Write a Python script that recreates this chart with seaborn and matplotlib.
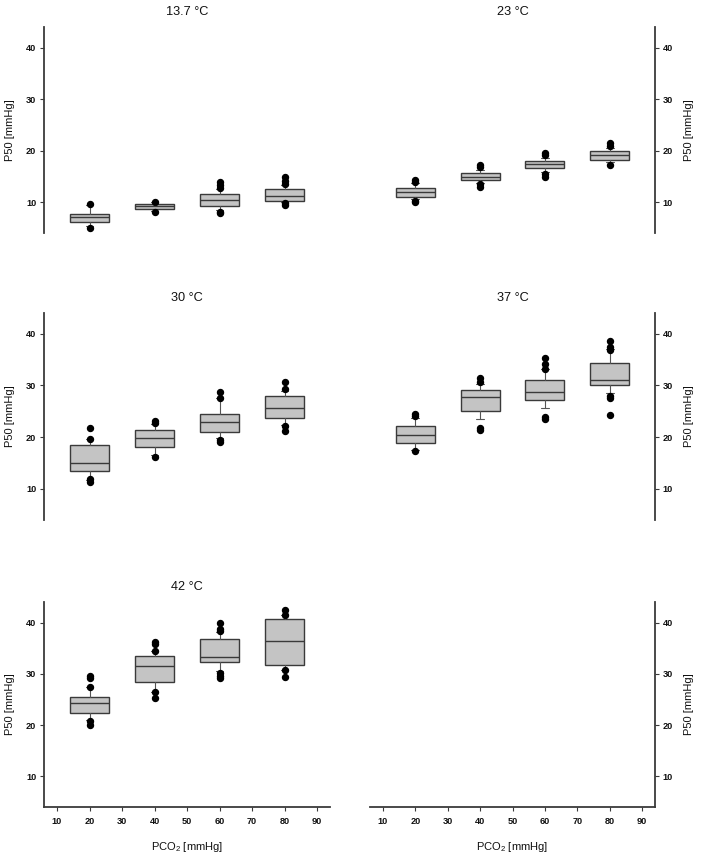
import matplotlib
matplotlib.use("Agg")
import matplotlib.pyplot as plt
import seaborn as sns

# ---------------- data ----------------
titles = ["13.7 °C", "23 °C", "30 °C", "37 °C", "42 °C"]
pco2 = [20, 40, 60, 80]
x_ticks = [10, 20, 30, 40, 50, 60, 70, 80, 90]
y_ticks = [10, 20, 30, 40]

q1 = [
    [6.2, 8.7, 9.15, 10.2],
    [11.05, 14.3, 16.55, 18.15],
    [13.5, 18.05, 21.1, 23.7],
    [18.95, 25.05, 27.15, 30.05],
    [22.35, 28.3, 32.35, 31.7],
]
med = [
    [7.15, 9.15, 10.5, 11.15],
    [12.0, 14.9, 17.4, 19.05],
    [15.0, 19.75, 23.0, 25.7],
    [20.45, 27.85, 28.8, 31.0],
    [24.3, 31.55, 33.25, 36.3],
]
q3 = [
    [7.75, 9.6, 11.55, 12.6],
    [12.8, 15.7, 18.05, 19.9],
    [18.55, 21.4, 24.4, 28.0],
    [22.15, 29.15, 31.1, 34.35],
    [25.4, 33.4, 36.75, 40.6],
]
whislo = [
    [5.3, 8.3, 8.45, 10.05],
    [10.6, 13.75, 15.9, 17.7],
    [11.8, 16.5, 19.9, 22.3],
    [17.6, 23.45, 25.7, 28.45],
    [21.0, 26.5, 30.6, 30.8],
]
whishi = [
    [9.35, 9.95, 12.6, 13.35],
    [13.7, 16.2, 18.6, 20.6],
    [19.7, 22.5, 27.5, 29.0],
    [23.75, 30.25, 33.2, 37.1],
    [27.35, 34.5, 38.05, 41.4],
]
fliers = [
    [[9.6, 5.05], [10.1, 8.0], [13.95, 13.3, 12.7, 8.1, 7.8], [14.8, 14.15, 13.45, 9.75, 9.5]],
    [[14.2, 13.9, 10.2, 9.95], [17.3, 16.9, 13.45, 13.0], [19.6, 19.15, 15.45, 14.9], [21.4, 20.95, 17.3]],
    [[21.7, 19.7, 11.9, 11.4], [23.1, 22.7, 16.2], [28.8, 27.5, 19.55, 19.1], [30.7, 29.3, 22.1, 21.15]],
    [[24.5, 24.1, 17.3], [31.35, 30.6, 21.8, 21.35], [35.3, 34.15, 33.2, 23.95, 23.55], [38.55, 37.4, 36.9, 28.0, 27.5, 24.2]],
    [[29.6, 29.15, 27.35, 20.85, 20.05], [36.2, 35.8, 34.5, 26.5, 25.25], [40.0, 38.8, 38.35, 30.05, 29.6, 29.15], [42.5, 41.4, 30.8, 29.4]],
]

# ---------------- style ----------------
sns.set_theme(style="white")
plt.rcParams["font.family"] = ["Liberation Sans", "DejaVu Sans"]
plt.rcParams["mathtext.fontset"] = "custom"
plt.rcParams["mathtext.rm"] = "Liberation Sans"
plt.rcParams["mathtext.it"] = "Liberation Sans"

SPINE = "#3a3a3a"
BOXFILL = "#c4c4c4"
W, H = 702, 855

fig = plt.figure(figsize=(W / 100, H / 100), dpi=100)
fig.patch.set_facecolor("white")

col_x = [(44, 330), (370, 655)]
row_y = [(27, 233), (313, 520), (602, 807)]


def make_ax(r, c):
    x0, x1 = col_x[c]
    y0, y1 = row_y[r]
    ax = fig.add_axes([x0 / W, 1 - y1 / H, (x1 - x0) / W, (y1 - y0) / H])
    ax.set_facecolor("white")
    ax.set_xlim(6, 94)
    ax.set_ylim(4, 44)
    for s in ax.spines.values():
        s.set_visible(False)
        s.set_color(SPINE)
        s.set_linewidth(1.3)
    side = "left" if c == 0 else "right"
    ax.spines[side].set_visible(True)
    ax.yaxis.set_ticks_position(side)
    ax.yaxis.set_label_position(side)
    ax.set_yticks(y_ticks)
    ax.tick_params(axis="y", which="both", direction="out", length=3, width=0.8,
                   color=SPINE, labelsize=6.6, pad=2.5, labelcolor="#111111",
                   left=(c == 0), right=(c == 1), labelleft=(c == 0), labelright=(c == 1))
    for lab in ax.get_yticklabels():
        lab.set_fontweight("bold")
    ax.set_ylabel("P50 [mmHg]", fontsize=8, color="#111111", labelpad=8)
    if r == 2:
        ax.spines["bottom"].set_visible(True)
        ax.set_xticks(x_ticks)
        ax.tick_params(axis="x", direction="out", length=3, width=0.8, color=SPINE,
                       labelsize=6.6, pad=4.0, labelcolor="#111111", bottom=True)
        for lab in ax.get_xticklabels():
            lab.set_fontweight("bold")
        ax.set_xlabel("PCO$_2$ [mmHg]", fontsize=8, color="#111111", labelpad=10)
    else:
        ax.set_xticks([])
    ax.grid(False)
    return ax


for i, title in enumerate(titles):
    r, c = divmod(i, 2)
    ax = make_ax(r, c)
    stats = []
    for j in range(len(pco2)):
        stats.append(dict(q1=q1[i][j], med=med[i][j], q3=q3[i][j],
                          whislo=whislo[i][j], whishi=whishi[i][j],
                          fliers=fliers[i][j], label=str(pco2[j])))
    ax.bxp(stats, positions=pco2, widths=12, capwidths=2.4, patch_artist=True,
           manage_ticks=False,
           boxprops=dict(facecolor=BOXFILL, edgecolor=SPINE, linewidth=1.0),
           medianprops=dict(color=SPINE, linewidth=1.0),
           whiskerprops=dict(color="#555555", linewidth=0.8),
           capprops=dict(color="#555555", linewidth=0.8),
           flierprops=dict(marker="o", markerfacecolor="black", markeredgecolor="black",
                           markersize=4.3, linestyle="none"))
    ax.set_title(title, fontsize=9.2, color="#111111", pad=8.5)

# empty bottom-right panel
make_ax(2, 1)

fig.savefig("out.png", dpi=100, facecolor="white")
